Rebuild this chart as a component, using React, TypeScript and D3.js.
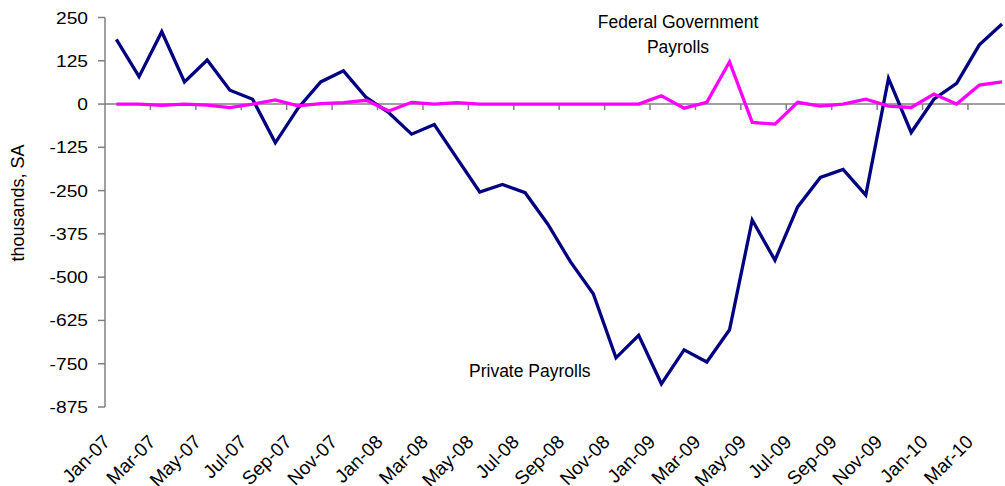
import React from "react";
import * as d3 from "d3";

// monthly change, thousands, SA
const months = [
  "Jan-07", "Feb-07", "Mar-07", "Apr-07", "May-07", "Jun-07", "Jul-07", "Aug-07", "Sep-07", "Oct-07", "Nov-07", "Dec-07",
  "Jan-08", "Feb-08", "Mar-08", "Apr-08", "May-08", "Jun-08", "Jul-08", "Aug-08", "Sep-08", "Oct-08", "Nov-08", "Dec-08",
  "Jan-09", "Feb-09", "Mar-09", "Apr-09", "May-09", "Jun-09", "Jul-09", "Aug-09", "Sep-09", "Oct-09", "Nov-09", "Dec-09",
  "Jan-10", "Feb-10", "Mar-10", "Apr-10",
];

const privatePayrolls = [
  187, 79, 209, 64, 127, 40, 14, -112, -12, 64, 96, 19,
  -25, -87, -59, -157, -254, -232, -256, -347, -456, -548, -733, -668,
  -808, -710, -745, -652, -335, -451, -297, -212, -189, -263, 74, -82,
  14, 60, 171, 231,
];

const federalPayrolls = [
  0, 0, -4, 0, -3, -10, 0, 12, -5, 1, 4, 11,
  -20, 5, 0, 4, 0, 0, 0, 0, 0, 0, 0, 0,
  24, -12, 5, 122, -53, -58, 5, -6, 0, 14, -6, -10,
  29, 0, 55, 64,
];

const yTicks = [250, 125, 0, -125, -250, -375, -500, -625, -750, -875];

const W = 1005;
const H = 486;
const left = 105;
const step = 22.71;
const font = "'Liberation Sans', Arial, sans-serif";

const x = d3.scaleBand<string>().domain(months).range([left, left + months.length * step]);
const y = d3.scaleLinear().domain([-875, 250]).range([407, 17.5]);
const cx = (m: string) => (x(m) as number) + x.bandwidth() / 2;

const line = d3
  .line<number>()
  .x((_, i) => cx(months[i]))
  .y((d) => y(d));

const App = () => {
  const labelled = months.filter((_, i) => i % 2 === 0);
  const boundaries = d3.range(2, months.length + 1, 2).map((i) => left + i * step);
  return (
    <svg width={W} height={H} style={{ position: "absolute", left: 0, top: 0, background: "#fff" }}>
      {/* y axis */}
      <line x1={left} x2={left} y1={y(250)} y2={y(-875)} stroke="#808080" strokeWidth={1.5} />
      {yTicks.map((t) => (
        <g key={t}>
          <line x1={left - 7} x2={left} y1={y(t)} y2={y(t)} stroke="#808080" strokeWidth={1.5} />
          <text
            transform={`translate(88,${y(t) + 6}) scale(1.2,1)`}
            textAnchor="end"
            fontFamily={font}
            fontSize={16}
            fill="#000"
          >
            {t}
          </text>
        </g>
      ))}
      <text
        transform={`translate(24,203) rotate(-90)`}
        textAnchor="middle"
        fontFamily={font}
        fontSize={18}
        fill="#000"
      >
        thousands, SA
      </text>

      {/* zero axis */}
      <line x1={left} x2={W} y1={y(0)} y2={y(0)} stroke="#808080" strokeWidth={1.5} />
      {boundaries.map((b) => (
        <line key={b} x1={b} x2={b} y1={y(0)} y2={y(0) + 6} stroke="#808080" strokeWidth={1.5} />
      ))}
      {labelled.map((m) => (
        <text
          key={m}
          transform={`translate(${cx(m) - 5},443) rotate(-45)`}
          textAnchor="end"
          fontFamily={font}
          fontSize={19}
          fill="#000"
        >
          {m}
        </text>
      ))}

      {/* series */}
      <path d={line(privatePayrolls) as string} fill="none" stroke="#000080" strokeWidth={3.3} strokeLinejoin="miter" />
      <path d={line(federalPayrolls) as string} fill="none" stroke="#FF00FF" strokeWidth={3.3} strokeLinejoin="miter" />

      {/* annotations */}
      <text x={678} y={28} textAnchor="middle" fontFamily={font} fontSize={17.5} fill="#000">
        Federal Government
      </text>
      <text x={678} y={53} textAnchor="middle" fontFamily={font} fontSize={17.5} fill="#000">
        Payrolls
      </text>
      <text x={469} y={377} fontFamily={font} fontSize={17.5} fill="#000">
        Private Payrolls
      </text>
    </svg>
  );
};

export default App;
